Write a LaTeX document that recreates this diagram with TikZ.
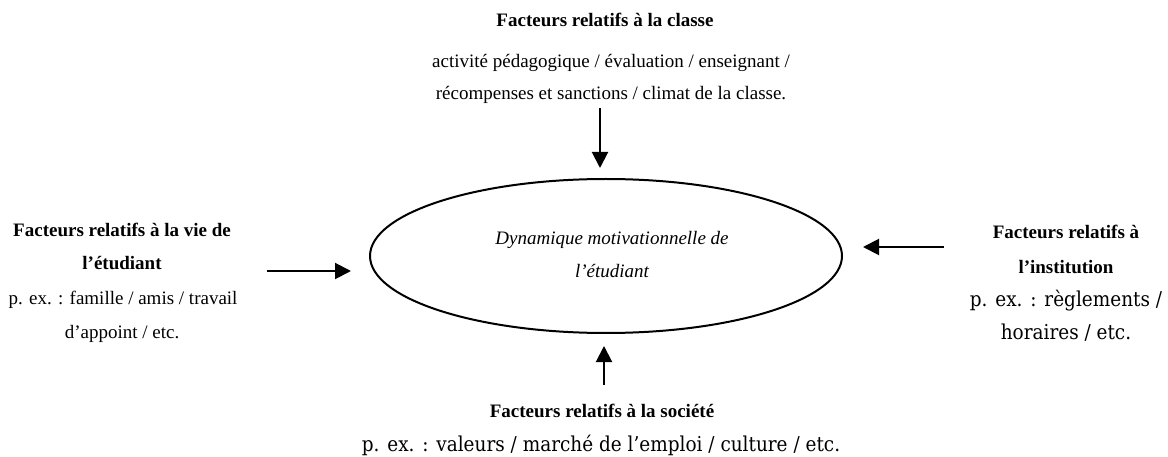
\documentclass[tikz,border=0pt]{standalone}
\usepackage{fontspec}
\setmainfont{Liberation Serif}
\newfontfamily\centfont[FakeStretch=0.9]{DejaVu Serif}
\usetikzlibrary{arrows.meta,shapes.geometric}
\begin{document}
\begin{tikzpicture}[x=1pt,y=-1pt,
  tm/.style={font=\fontsize{19}{19}\selectfont, inner sep=0pt, anchor=base},
  tb/.style={font=\fontsize{19}{19}\selectfont\bfseries, inner sep=0pt, anchor=base},
  ti/.style={font=\fontsize{19}{19}\selectfont\itshape, inner sep=0pt, anchor=base},
  ct/.style={font=\centfont\fontsize{20.5}{20.5}\selectfont, inner sep=0pt, anchor=base},
  arr/.style={line width=2pt, -{Triangle[length=16pt,width=16pt]}},
]
\useasboundingbox (0,0) rectangle (1168,457);
% central ellipse
\node[draw, line width=2pt, ellipse, minimum width=472pt, minimum height=154pt, inner sep=0pt] (ell) at (606,256) {};
\node[ti] (e1) at (612,245) {Dynamique motivationnelle de};
\node[ti] (e2) at (612,278) {l’étudiant};
% top block
\node[tb] (t0) at (605,27) {Facteurs relatifs à la classe};
\node[tm] (t1) at (611,68) {activité pédagogique / évaluation / enseignant /};
\node[tm] (t2) at (611,100) {récompenses et sanctions / climat de la classe.};
% left block
\node[tb] (l0) at (122,237) {Facteurs relatifs à la vie de};
\node[tb] (l1) at (122,270) {l’étudiant};
\node[tm] (l2) at (123,305) {p. ex. : famille / amis / travail};
\node[tm] (l3) at (122,338) {d’appoint / etc.};
% right block
\node[tb] (r0) at (1066,239) {Facteurs relatifs à};
\node[tb] (r1) at (1066,273) {l’institution};
\node[ct] (r2) at (1066,306) {p. ex. : règlements /};
\node[ct] (r3) at (1066,339) {horaires / etc.};
% bottom block
\node[tb] (b0) at (602,417) {Facteurs relatifs à la société};
\node[ct] (b1) at (601,451) {p. ex. : valeurs / marché de l’emploi / culture / etc.};
% arrows
\coordinate (tA) at (600,108);
\coordinate (lA) at (267,271);
\coordinate (rA) at (944,247);
\coordinate (bA) at (604,385);
\draw[arr, shorten >=10pt] (tA) -- (tA |- ell.north);
\draw[arr, shorten >=18pt] (lA) -- (lA -| ell.west);
\draw[arr, shorten >=20pt] (rA) -- (rA -| ell.east);
\draw[arr, shorten >=12pt] (bA) -- (bA |- ell.south);
\end{tikzpicture}
\end{document}
